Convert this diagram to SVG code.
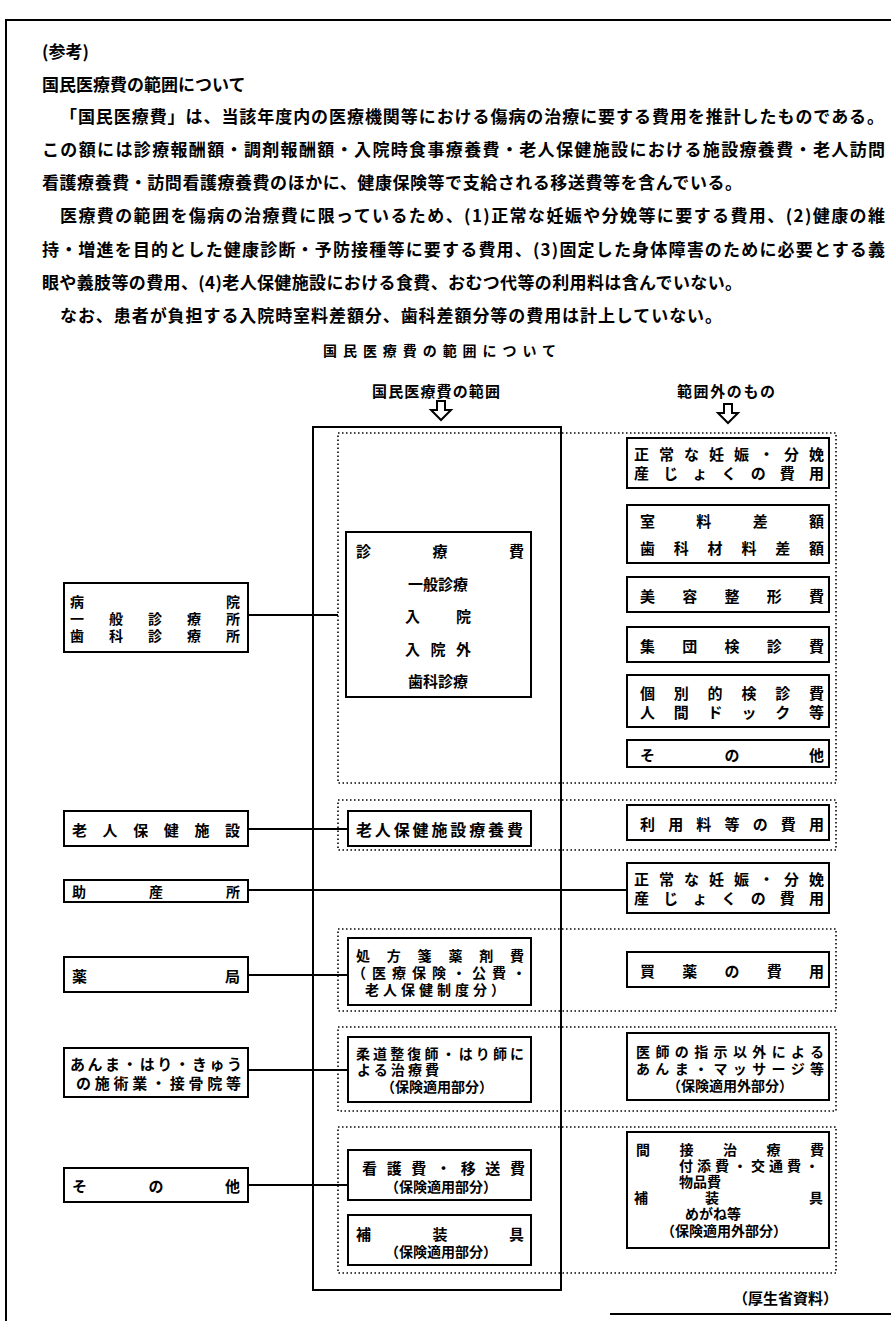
<svg xmlns="http://www.w3.org/2000/svg" width="891" height="1321" viewBox="0 0 891 1321">
<style>
text{font-family:"Noto Sans CJK JP","Noto Sans CJK SC",sans-serif;font-weight:700;fill:#000;dominant-baseline:central}
.p{font-size:17px}
.b{font-size:15px}
.c{font-size:16px}
.s{font-size:14px}
.box{fill:#fff;stroke:#000;stroke-width:2}
.dot{fill:none;stroke:#000;stroke-width:1.6;stroke-dasharray:1.5 2.5}
.ln{fill:none;stroke:#000;stroke-width:2}
.arr{fill:#fff;stroke:#000;stroke-width:2;stroke-linejoin:miter}
.m{text-anchor:middle}
.e{text-anchor:end}
</style>
<rect width="891" height="1321" fill="#fff"/>
<g id="page">
<path class="ln" d="M6 1321 V20 H891"/>
<path class="ln" d="M610 1314 H891"/>
</g>
<g id="intro">
<text class="p" x="42" y="50">(参考)</text>
<text class="p" x="42" y="83">国民医療費の範囲について</text>
<text class="p" x="60" y="115" textLength="824" lengthAdjust="spacing">「国民医療費」は、当該年度内の医療機関等における傷病の治療に要する費用を推計したものである。</text>
<text class="p" x="42" y="148" textLength="843" lengthAdjust="spacing">この額には診療報酬額・調剤報酬額・入院時食事療養費・老人保健施設における施設療養費・老人訪問</text>
<text class="p" x="42" y="181" textLength="700" lengthAdjust="spacing">看護療養費・訪問看護療養費のほかに、健康保険等で支給される移送費等を含んでいる。</text>
<text class="p" x="60" y="214" textLength="825" lengthAdjust="spacing">医療費の範囲を傷病の治療費に限っているため、(1)正常な妊娠や分娩等に要する費用、(2)健康の維</text>
<text class="p" x="42" y="248" textLength="843" lengthAdjust="spacing">持・増進を目的とした健康診断・予防接種等に要する費用、(3)固定した身体障害のために必要とする義</text>
<text class="p" x="42" y="281" textLength="700" lengthAdjust="spacing">眼や義肢等の費用、(4)老人保健施設における食費、おむつ代等の利用料は含んでいない。</text>
<text class="p" x="60" y="314" textLength="662" lengthAdjust="spacing">なお、患者が負担する入院時室料差額分、歯科差額分等の費用は計上していない。</text>
</g>
<g id="headings">
<text class="s" x="323" y="350" textLength="233" lengthAdjust="spacing">国民医療費の範囲について</text>
<text class="b" x="372" y="390" textLength="128" lengthAdjust="spacing">国民医療費の範囲</text>
<text class="b" x="677" y="390" textLength="98" lengthAdjust="spacing">範囲外のもの</text>
<path class="arr" d="M437 401 H445 V410 H451 L441 420 L431 410 H437 Z"/>
<path class="arr" d="M724 404 H732 V413 H738 L728 423 L718 413 H724 Z"/>
</g>
<g id="frame">
<rect class="dot" x="338" y="433" width="498" height="350"/>
<rect class="dot" x="338" y="800" width="498" height="50"/>
<rect class="dot" x="338" y="929" width="498" height="82"/>
<rect class="dot" x="338" y="1027" width="498" height="84"/>
<rect class="dot" x="338" y="1127" width="498" height="146"/>
<rect x="313" y="427" width="248" height="863" fill="none" stroke="#000" stroke-width="2"/>
</g>
<g id="connectors">
<path class="ln" d="M248 615 H338"/>
<path class="ln" d="M248 829 H348"/>
<path class="ln" d="M248 890 H627"/>
<path class="ln" d="M248 975 H348"/>
<path class="ln" d="M248 1070 H348"/>
<path class="ln" d="M248 1185 H348"/>
</g>
<g id="n-byoin">
<rect class="box" x="64" y="583" width="184" height="69"/>
<text class="s" x="70" y="601" textLength="170" lengthAdjust="spacing">病院</text>
<text class="s" x="70" y="618" textLength="170" lengthAdjust="spacing">一般診療所</text>
<text class="s" x="70" y="635" textLength="170" lengthAdjust="spacing">歯科診療所</text>
</g>
<g id="n-roken">
<rect class="box" x="64" y="811" width="184" height="35"/>
<text class="b" x="72" y="829" textLength="168" lengthAdjust="spacing">老人保健施設</text>
</g>
<g id="n-josan">
<rect class="box" x="64" y="880" width="184" height="22"/>
<text class="s" x="72" y="891" textLength="168" lengthAdjust="spacing">助産所</text>
</g>
<g id="n-yakkyoku">
<rect class="box" x="64" y="957" width="184" height="35"/>
<text class="b" x="72" y="975" textLength="168" lengthAdjust="spacing">薬局</text>
</g>
<g id="n-anma">
<rect class="box" x="64" y="1048" width="184" height="49"/>
<text class="b" x="70" y="1063" textLength="172" lengthAdjust="spacing">あんま・はり・きゅう</text>
<text class="b" x="76" y="1082" textLength="165" lengthAdjust="spacing">の施術業・接骨院等</text>
</g>
<g id="n-sonota-left">
<rect class="box" x="64" y="1168" width="184" height="34"/>
<text class="b" x="72" y="1185" textLength="168" lengthAdjust="spacing">その他</text>
</g>
<g id="n-shinryohi">
<rect class="box" x="346" y="532" width="185" height="165"/>
<text class="b" x="356" y="550" textLength="168" lengthAdjust="spacing">診療費</text>
<text class="b m" x="438" y="583">一般診療</text>
<text class="b" x="405" y="615" textLength="66" lengthAdjust="spacing">入院</text>
<text class="b" x="405" y="648" textLength="66" lengthAdjust="spacing">入院外</text>
<text class="b m" x="438" y="680">歯科診療</text>
</g>
<g id="n-roken-ryoyohi">
<rect class="box" x="348" y="811" width="183" height="35"/>
<text class="c" x="356" y="829" textLength="167" lengthAdjust="spacing">老人保健施設療養費</text>
</g>
<g id="n-shohosen">
<rect class="box" x="348" y="938" width="183" height="67"/>
<text class="s" x="356" y="955" textLength="168" lengthAdjust="spacing">処方箋薬剤費</text>
<text class="s" x="352" y="972" textLength="174" lengthAdjust="spacing">（医療保険・公費・</text>
<text class="s" x="365" y="989" textLength="140" lengthAdjust="spacing">老人保健制度分）</text>
</g>
<g id="n-judo">
<rect class="box" x="348" y="1037" width="183" height="65"/>
<text class="s" x="356" y="1053" textLength="168" lengthAdjust="spacing">柔道整復師・はり師に</text>
<text class="s" x="357" y="1069" textLength="82" lengthAdjust="spacing">よる治療費</text>
<text class="s m" x="437" y="1086">（保険適用部分）</text>
</g>
<g id="n-kango">
<rect class="box" x="348" y="1150" width="183" height="50"/>
<text class="b" x="362" y="1167" textLength="163" lengthAdjust="spacing">看護費・移送費</text>
<text class="s m" x="441" y="1186">（保険適用部分）</text>
</g>
<g id="n-hosogu">
<rect class="box" x="348" y="1215" width="183" height="50"/>
<text class="b" x="356" y="1233" textLength="168" lengthAdjust="spacing">補装具</text>
<text class="s m" x="441" y="1251">（保険適用部分）</text>
</g>
<g id="n-ninshin-1">
<rect class="box" x="627" y="438" width="202" height="50"/>
<text class="b" x="634" y="453" textLength="190" lengthAdjust="spacing">正常な妊娠・分娩</text>
<text class="b" x="634" y="472" textLength="190" lengthAdjust="spacing">産じょくの費用</text>
</g>
<g id="n-shitsuryo">
<rect class="box" x="627" y="505" width="202" height="58"/>
<text class="b" x="640" y="520" textLength="184" lengthAdjust="spacing">室料差額</text>
<text class="b" x="640" y="547" textLength="184" lengthAdjust="spacing">歯科材料差額</text>
</g>
<g id="n-biyo">
<rect class="box" x="627" y="577" width="202" height="35"/>
<text class="b" x="640" y="595" textLength="184" lengthAdjust="spacing">美容整形費</text>
</g>
<g id="n-shudan">
<rect class="box" x="627" y="627" width="202" height="35"/>
<text class="b" x="640" y="645" textLength="184" lengthAdjust="spacing">集団検診費</text>
</g>
<g id="n-kobetsu">
<rect class="box" x="627" y="675" width="202" height="52"/>
<text class="b" x="640" y="692" textLength="184" lengthAdjust="spacing">個別的検診費</text>
<text class="b" x="640" y="711" textLength="184" lengthAdjust="spacing">人間ドック等</text>
</g>
<g id="n-sonota-right">
<rect class="box" x="627" y="740" width="202" height="27"/>
<text class="b" x="640" y="754" textLength="184" lengthAdjust="spacing">その他</text>
</g>
<g id="n-riyoryo">
<rect class="box" x="627" y="805" width="202" height="35"/>
<text class="b" x="640" y="823" textLength="184" lengthAdjust="spacing">利用料等の費用</text>
</g>
<g id="n-ninshin-2">
<rect class="box" x="627" y="863" width="202" height="50"/>
<text class="b" x="634" y="878" textLength="190" lengthAdjust="spacing">正常な妊娠・分娩</text>
<text class="b" x="634" y="897" textLength="190" lengthAdjust="spacing">産じょくの費用</text>
</g>
<g id="n-baiyaku">
<rect class="box" x="627" y="952" width="202" height="35"/>
<text class="b" x="640" y="970" textLength="184" lengthAdjust="spacing">買薬の費用</text>
</g>
<g id="n-ishi">
<rect class="box" x="627" y="1033" width="202" height="67"/>
<text class="s" x="636" y="1051" textLength="188" lengthAdjust="spacing">医師の指示以外による</text>
<text class="s" x="636" y="1068" textLength="188" lengthAdjust="spacing">あんま・マッサージ等</text>
<text class="s m" x="730" y="1085">（保険適用外部分）</text>
</g>
<g id="n-kansetsu">
<rect class="box" x="627" y="1132" width="202" height="116"/>
<text class="s" x="636" y="1149" textLength="188" lengthAdjust="spacing">間接治療費</text>
<text class="s" x="679" y="1165" textLength="140" lengthAdjust="spacing">付添費・交通費・</text>
<text class="s" x="679" y="1181">物品費</text>
<text class="s"><tspan x="634" y="1197">補</tspan><tspan x="705" y="1197">装</tspan><tspan x="809" y="1197">具</tspan></text>
<text class="s" x="685" y="1213">めがね等</text>
<text class="s m" x="724" y="1230">（保険適用外部分）</text>
</g>
<g id="source">
<text class="b e" x="838" y="1297">（厚生省資料）</text>
</g>
</svg>
